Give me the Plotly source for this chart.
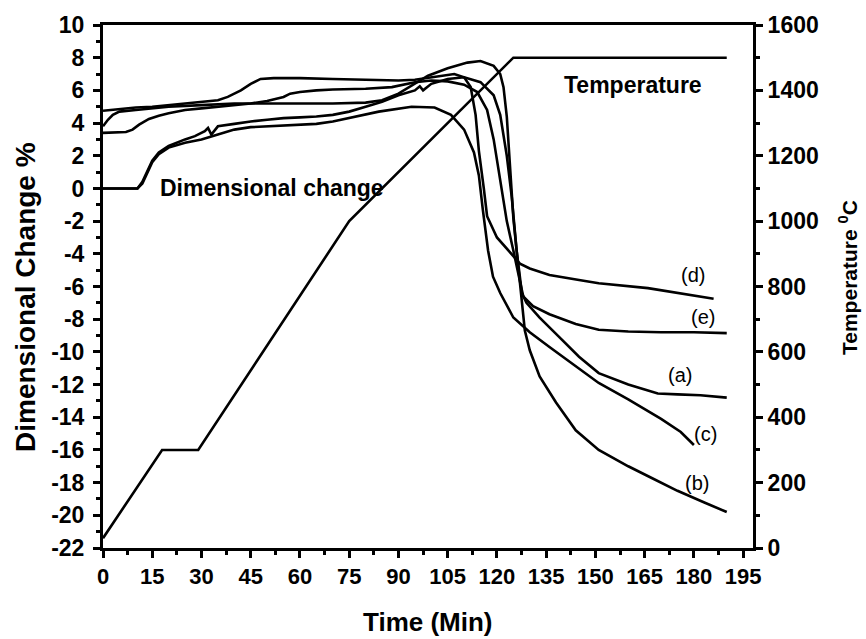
import plotly.graph_objects as go

# Temperature program (right axis)
temp_t = [0, 18, 29, 75, 125, 190]
temp_T = [30, 300, 300, 1000, 1500, 1500]

# Dimensional change curves (left axis)
a_t = [0, 10.5, 12, 13.5, 15, 17, 20, 25, 28, 31, 32, 33, 35, 40, 45, 50, 55, 60, 65, 70, 75, 80, 85, 90, 95, 96.5, 97.5, 100, 105, 110, 115, 119, 121, 123, 124.5, 126, 127.6, 129, 133, 139, 145, 151, 155, 160, 165, 169, 175, 182, 190]
a_d = [0, 0, 0.4, 1.1, 1.7, 2.2, 2.6, 3.0, 3.2, 3.5, 3.7, 3.3, 3.8, 3.95, 4.1, 4.2, 4.3, 4.35, 4.4, 4.5, 4.7, 5.0, 5.3, 5.7, 6.0, 6.25, 6.0, 6.4, 6.7, 6.8, 6.5, 5.7, 4.5, 2.0, -0.5, -3.8, -6.4, -7.0, -7.9, -9.1, -10.3, -11.3, -11.6, -12.0, -12.3, -12.55, -12.6, -12.65, -12.8]

b_t = [0, 1.5, 3, 5, 10, 15, 20, 30, 40, 50, 60, 70, 80, 85, 90, 95, 99, 105, 111, 115, 119, 121, 122, 123, 124, 125, 126, 128.5, 130, 133, 138, 144, 151, 160, 167, 175, 183, 190]
b_d = [3.8, 4.2, 4.5, 4.7, 4.8, 4.9, 5.0, 5.1, 5.2, 5.2, 5.2, 5.2, 5.25, 5.4, 5.8, 6.4, 6.9, 7.35, 7.7, 7.8, 7.5, 7.0, 6.2, 4.4, 1.3, -1.8, -3.8, -8.7, -9.9, -11.5, -13.1, -14.8, -16.0, -17.0, -17.7, -18.5, -19.2, -19.8]

c_t = [0, 10.5, 12, 13.5, 15, 17, 20, 25, 30, 35, 40, 45, 50, 55, 60, 65, 70, 75, 84, 94, 101, 106, 110, 113, 114.5, 115.7, 117.3, 118.8, 121, 125, 130, 136, 143, 151, 160, 170, 176, 180]
c_d = [0, 0, 0.3, 1.0, 1.6, 2.1, 2.5, 2.8, 3.0, 3.3, 3.6, 3.75, 3.8, 3.85, 3.9, 3.95, 4.1, 4.3, 4.7, 5.0, 4.95, 4.5, 3.6, 2.2, 0.8, -1.3, -3.8, -5.4, -6.4, -7.9, -8.8, -9.7, -10.7, -11.9, -12.9, -14.1, -14.9, -15.7]

d_t = [0, 5, 10, 15, 20, 25, 30, 35, 38, 42, 45, 48, 52, 60, 70, 80, 90, 95, 100, 104, 107, 110, 112, 113.5, 114.5, 116, 117, 120, 124, 127, 130, 136, 145, 151, 166, 186]
d_d = [4.75, 4.85, 4.95, 5.0, 5.1, 5.2, 5.3, 5.4, 5.6, 6.0, 6.4, 6.7, 6.75, 6.75, 6.7, 6.65, 6.6, 6.65, 6.8, 6.95, 7.0, 6.8, 6.2, 4.5, 2.3, 0.0, -1.7, -3.0, -3.9, -4.6, -4.9, -5.3, -5.6, -5.8, -6.1, -6.75]

e_t = [0, 7, 9, 11, 14, 17, 20, 25, 30, 35, 40, 45, 50, 53, 55, 57, 60, 65, 70, 80, 88, 95, 100, 105, 110, 114, 117, 119, 121, 123, 125, 127, 128, 131, 136, 144, 151, 160, 170, 180, 190]
e_d = [3.4, 3.45, 3.6, 3.9, 4.25, 4.45, 4.6, 4.8, 4.9, 5.0, 5.1, 5.2, 5.35, 5.5, 5.6, 5.8, 5.9, 6.0, 6.05, 6.1, 6.2, 6.5, 6.6, 6.55, 6.35, 5.9, 4.8, 3.0, 0.5, -2.0, -3.8, -5.8, -6.6, -7.2, -7.7, -8.3, -8.65, -8.75, -8.8, -8.8, -8.85]

curve_labels = ["(d)", "(e)", "(a)", "(c)", "(b)"]
label_t = [179.7, 182.8, 175.8, 183.4, 181.0]
label_d = [-5.3, -7.86, -11.4, -15.0, -18.0]

x_ticks = list(range(0, 196, 15))
y1_ticks = list(range(-22, 11, 2))
y1_text = [str(v) for v in y1_ticks]
y2_ticks = list(range(0, 1601, 200))

FONT = "Liberation Sans, Arial"

fig = go.Figure()
line = dict(color="black", width=2.6)
for tt, dd in [(a_t, a_d), (b_t, b_d), (c_t, c_d), (d_t, d_d), (e_t, e_d)]:
    fig.add_trace(go.Scatter(x=tt, y=dd, mode="lines", line=line, showlegend=False))
fig.add_trace(go.Scatter(x=temp_t, y=temp_T, mode="lines", line=line, yaxis="y2", showlegend=False))

for lab, lt, ld in zip(curve_labels, label_t, label_d):
    fig.add_annotation(x=lt, y=ld, text=lab, showarrow=False, xanchor="center", yanchor="middle",
                       font=dict(family=FONT, size=20, color="black"))

fig.add_annotation(x=161.4, y=6.33, text="<b>Temperature</b>", showarrow=False,
                   xanchor="center", yanchor="middle",
                   font=dict(family=FONT, size=23, color="black"))
fig.add_annotation(x=51.5, y=0.03, text="<b>Dimensional change</b>", showarrow=False,
                   xanchor="center", yanchor="middle",
                   font=dict(family=FONT, size=23, color="black"))

# axis titles
fig.add_annotation(xref="paper", yref="paper", x=(428 - 103) / 650, y=-(622 - 548) / 523,
                   xanchor="center", yanchor="middle",
                   text="<b>Time (Min)</b>", showarrow=False,
                   font=dict(family=FONT, size=26, color="black"))
fig.add_annotation(xref="paper", yref="paper", x=-(103 - 25) / 650, y=(548 - 297) / 523,
                   xanchor="center", yanchor="middle",
                   text="<b>Dimensional Change %</b>", textangle=-90, showarrow=False,
                   font=dict(family=FONT, size=28, color="black"))
fig.add_annotation(xref="paper", yref="paper", x=1 + (848 - 753) / 650, y=(548 - 278) / 523,
                   xanchor="center", yanchor="middle",
                   text="<b>Temperature <sup>0</sup>C</b>", textangle=-90, showarrow=False,
                   font=dict(family=FONT, size=21, color="black"))

axis_common = dict(showline=True, linecolor="black", linewidth=3, ticks="outside",
                   ticklen=7, tickwidth=3, tickcolor="black", showgrid=False, zeroline=False)

fig.update_layout(
    width=866, height=639,
    margin=dict(l=103, r=113, t=25, b=91),
    plot_bgcolor="white", paper_bgcolor="white",
    xaxis=dict(range=[0, 198], tickvals=x_ticks, mirror=True,
               minor=dict(dtick=7.5, ticklen=4, tickwidth=3, tickcolor="black", ticks="outside"),
               tickfont=dict(family=FONT, size=22, color="black", weight="bold"),
               **axis_common),
    yaxis=dict(range=[-22, 10], tickvals=y1_ticks, ticktext=y1_text, ticklabelstandoff=4,
               minor=dict(dtick=1, ticklen=4, tickwidth=3, tickcolor="black", ticks="outside"),
               tickfont=dict(family=FONT, size=23, color="black", weight="bold"),
               **axis_common),
    yaxis2=dict(range=[0, 1600], tickvals=y2_ticks, overlaying="y", side="right",
                minor=dict(dtick=100, ticklen=4, tickwidth=3, tickcolor="black", ticks="outside"),
                tickfont=dict(family=FONT, size=23, color="black", weight="bold"),
                **axis_common),
)

fig.write_html("out.html")
